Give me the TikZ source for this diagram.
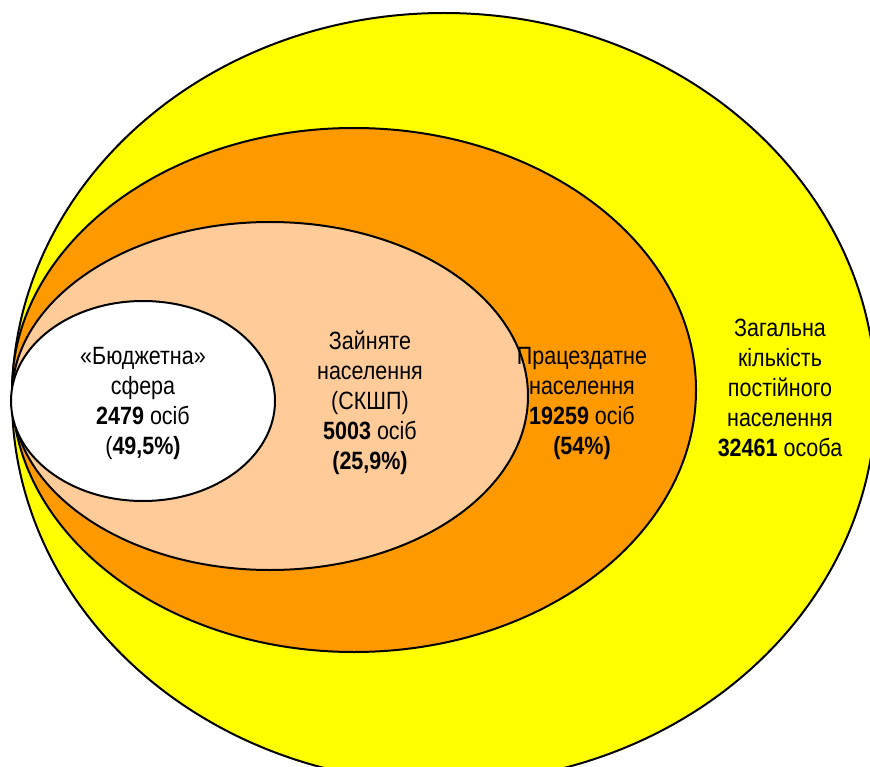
\documentclass[tikz,border=0pt]{standalone}
\usepackage{fontspec}
\setmainfont{Liberation Sans}[FakeStretch=0.86]
\definecolor{cyel}{HTML}{FFFF00}
\definecolor{corg}{HTML}{FF9900}
\definecolor{cpch}{HTML}{FFCC99}
\begin{document}
\begin{tikzpicture}[x=1pt,y=-1pt,
  ring/.style={draw=black,line width=2pt},
  lbl/.style={align=center,font=\fontsize{25}{30}\selectfont,inner sep=0pt}]
\useasboundingbox (0,0) rectangle (870,767);
\fill[white] (0,0) rectangle (870,767);
\draw[ring,fill=cyel] (444,398) ellipse [x radius=432, y radius=385];
\draw[ring,fill=corg] (354,390) ellipse [x radius=342, y radius=262];
\draw[ring,fill=cpch] (270,396) ellipse [x radius=258, y radius=174];
\draw[ring,fill=white] (143,401) ellipse [x radius=132, y radius=100];
\node[lbl] (t1) at (143,403) {«Бюджетна»\\сфера\\\textbf{2479} осіб\\(\textbf{49,5\%)}};
\node[lbl] (t2) at (370,403) {Зайняте\\населення\\(СКШП)\\\textbf{5003} осіб\\\textbf{(25,9\%)}};
\node[lbl] (t3) at (582,403) {Працездатне\\населення\\\textbf{19259} осіб\\\textbf{(54\%)}};
\node[lbl] (t4) at (780,388) {Загальна\\кількість\\постійного\\населення\\\textbf{32461} особа};
\end{tikzpicture}
\end{document}
